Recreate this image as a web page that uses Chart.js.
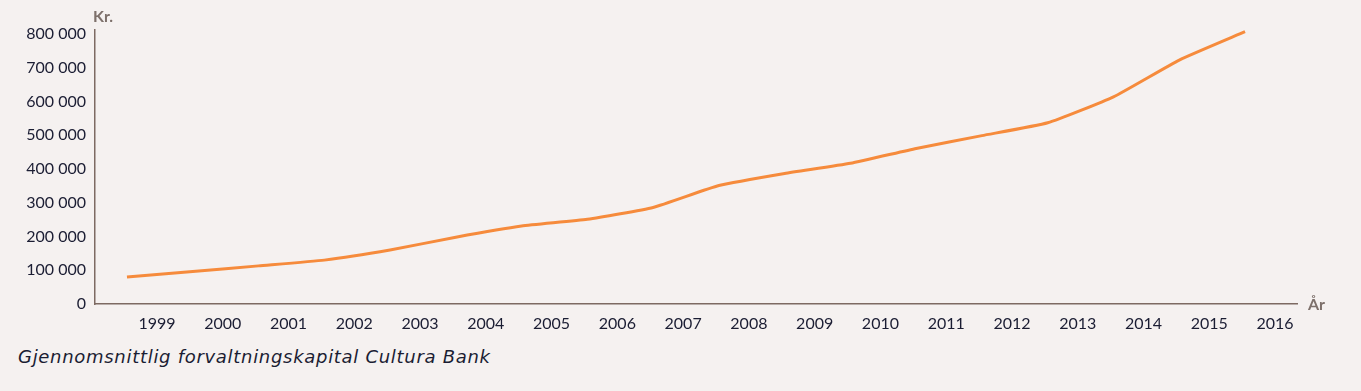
<!DOCTYPE html>
<html>
<head>
<meta charset="utf-8">
<script src="https://cdn.jsdelivr.net/npm/chart.js@4"></script>
<style>
  html, body {
    margin: 0;
    padding: 0;
    background: #f5f1f0;
  }
  #wrap {
    position: relative;
    width: 1361px;
    height: 391px;
  }
  #chart-box {
    position: absolute;
    left: 0;
    top: 0;
    width: 1361px;
    height: 340px;
  }
  #caption {
    position: absolute;
    left: 18px;
    top: 346px;
    font-family: "DejaVu Sans", sans-serif;
    font-style: italic;
    font-size: 18px;
    letter-spacing: 0.7px;
    color: #1b1d33;
  }
</style>
</head>
<body>
<div id="wrap">
  <div id="chart-box"><canvas id="capital-chart"></canvas></div>
  <div id="caption">Gjennomsnittlig forvaltningskapital Cultura Bank</div>
</div>
<script>
const years = ["1999", "2000", "2001", "2002", "2003", "2004", "2005", "2006", "2007",
  "2008", "2009", "2010", "2011", "2012", "2013", "2014", "2015", "2016"];
const capital = [80000, 96000, 113000, 130000, 160000, 198000, 231000, 251000, 286000,
  351000, 387000, 417000, 461000, 499000, 537000, 614000, 723000, 807000];
const yTicks = [0, 100000, 200000, 300000, 400000, 500000, 600000, 700000, 800000];

const axisColor = "#7d6a62";
const textColor = "#1b1d33";

// axis captions "Kr." and "År"
const axisNames = {
  id: "axisNames",
  afterDraw(chart) {
    const ctx = chart.ctx;
    const area = chart.chartArea;
    ctx.save();
    ctx.fillStyle = "#7d706b";
    ctx.font = "bold 16px Lato";
    ctx.textBaseline = "middle";
    ctx.textAlign = "left";
    ctx.fillText("Kr.", area.left - 2, 17);
    ctx.fillText("År", area.right + 11, area.bottom + 1);
    ctx.restore();
  },
};

const ctx = document.getElementById("capital-chart").getContext("2d");
new Chart(ctx, {
  type: "line",
  data: {
    datasets: [
      {
        data: capital.map((v, i) => ({ x: i, y: v })),
        borderColor: "#f68b3c",
        borderWidth: 3,
        pointRadius: 0,
        tension: 0.15,
        fill: false,
      },
    ],
  },
  options: {
    responsive: true,
    maintainAspectRatio: false,
    animation: false,
    layout: {
      padding: { top: 30, right: 64, left: 0, bottom: 0 },
    },
    plugins: {
      legend: { display: false },
      tooltip: { enabled: false },
    },
    scales: {
      x: {
        type: "linear",
        min: -0.486,
        max: 17.79,
        afterBuildTicks: (scale) => {
          scale.ticks = years.map((y, i) => ({ value: i }));
        },
        afterFit: (scale) => {
          scale.height = 36;
        },
        grid: { display: false, drawTicks: false },
        border: { color: axisColor, width: 1.5 },
        ticks: {
          autoSkip: false,
          maxRotation: 0,
          padding: 10,
          labelOffset: 30,
          color: textColor,
          font: { family: "Lato", size: 16 },
          callback: (value) => years[value],
        },
      },
      y: {
        min: 0,
        max: 812000,
        afterBuildTicks: (scale) => {
          scale.ticks = yTicks.map((v) => ({ value: v }));
        },
        afterFit: (scale) => {
          scale.width = 95;
        },
        grid: { display: false, drawTicks: false },
        border: { color: axisColor, width: 1.5 },
        ticks: {
          padding: 9,
          color: textColor,
          font: { family: "Lato", size: 16 },
          callback: (value) => value.toLocaleString("en-US").replace(/,/g, " "),
        },
      },
    },
  },
  plugins: [axisNames],
});
</script>
</body>
</html>
